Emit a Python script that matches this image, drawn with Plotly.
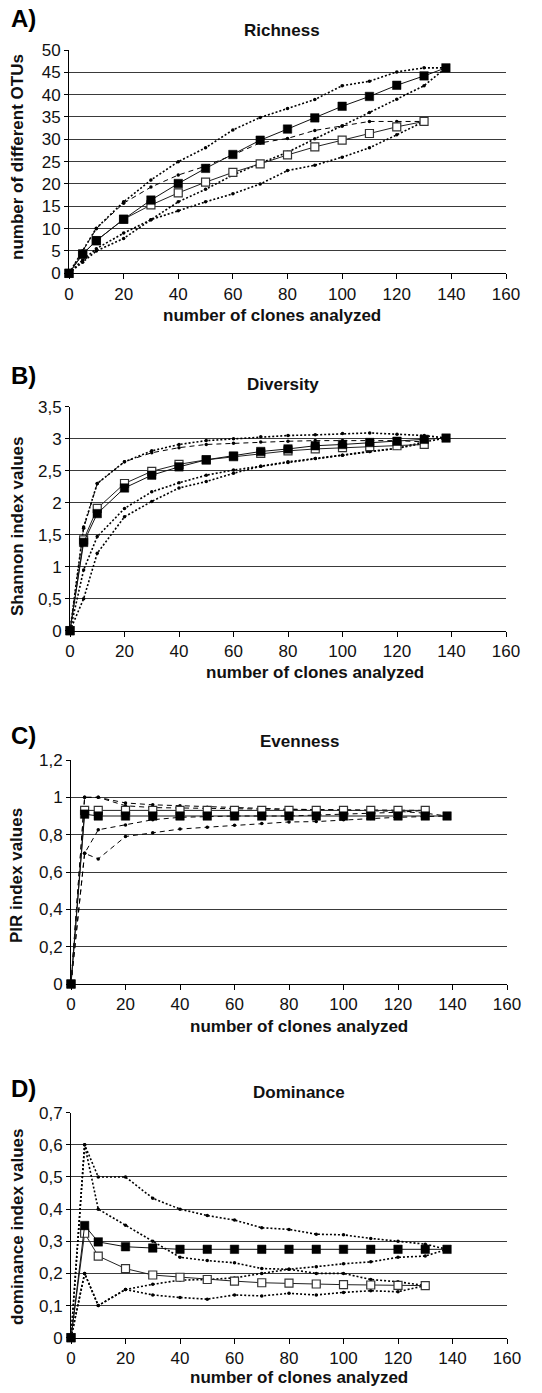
import plotly.graph_objects as go

# ---------------- data ----------------
x_filled = [0, 5, 10, 20, 30, 40, 50, 60, 70, 80, 90, 100, 110, 120, 130, 138]
x_open = [0, 5, 10, 20, 30, 40, 50, 60, 70, 80, 90, 100, 110, 120, 130]

# A) Richness
rich_filled = [0, 4.3, 7.3, 12.1, 16.4, 20.1, 23.5, 26.6, 29.8, 32.3, 34.8, 37.4, 39.6, 42.1, 44.2, 46.0]
rich_open = [0, 4.3, 7.3, 12.1, 15.3, 18.0, 20.4, 22.6, 24.5, 26.5, 28.3, 29.8, 31.3, 32.8, 34.0]
rich_filled_upper = [0, 5, 10.1, 16, 20.9, 25, 28.1, 32.1, 34.9, 36.9, 38.9, 42, 43, 45.1, 46, 46]
rich_filled_lower = [0, 3, 5.5, 9, 12, 16, 18.8, 22, 24.6, 27.1, 30.1, 33, 36, 39, 42, 46]
rich_open_upper = [0, 5, 10, 15.7, 19.3, 22, 24, 26.5, 29.2, 30.2, 32, 33, 34, 34, 34]
rich_open_lower = [0, 2.5, 5, 7.8, 12, 14, 16, 17.8, 20, 23, 24.2, 26, 28.1, 31, 34]

# B) Diversity
div_filled = [0, 1.38, 1.83, 2.23, 2.43, 2.56, 2.67, 2.73, 2.80, 2.84, 2.89, 2.91, 2.94, 2.96, 2.99, 3.01]
div_open = [0, 1.42, 1.91, 2.30, 2.49, 2.60, 2.67, 2.72, 2.77, 2.81, 2.84, 2.86, 2.875, 2.89, 2.91]
div_filled_upper = [0, 1.62, 2.30, 2.64, 2.81, 2.91, 2.97, 3.00, 3.03, 3.05, 3.06, 3.08, 3.09, 3.07, 3.05, 3.01]
div_filled_lower = [0, 0.95, 1.47, 1.91, 2.17, 2.31, 2.43, 2.51, 2.57, 2.64, 2.69, 2.74, 2.80, 2.85, 2.95, 3.01]
div_open_upper = [0, 1.60, 2.30, 2.64, 2.78, 2.86, 2.91, 2.93, 2.95, 2.96, 2.97, 2.97, 2.98, 2.97, 2.95]
div_open_lower = [0, 0.50, 1.21, 1.78, 2.02, 2.23, 2.33, 2.46, 2.57, 2.63, 2.69, 2.74, 2.80, 2.85, 2.93]

# C) Evenness
even_filled = [0, 0.91, 0.90, 0.90, 0.90, 0.90, 0.90, 0.90, 0.90, 0.90, 0.90, 0.90, 0.90, 0.90, 0.90, 0.90]
even_open = [0, 0.93, 0.93, 0.93, 0.93, 0.93, 0.93, 0.93, 0.93, 0.93, 0.93, 0.93, 0.93, 0.93, 0.93]
even_filled_upper = [0, 1.0, 1.0, 0.97, 0.96, 0.955, 0.947, 0.943, 0.94, 0.936, 0.934, 0.932, 0.93, 0.925, 0.915, 0.90]
even_filled_lower = [0, 0.70, 0.67, 0.79, 0.81, 0.83, 0.84, 0.85, 0.86, 0.868, 0.87, 0.88, 0.886, 0.893, 0.897, 0.90]
even_open_upper = [0, 1.0, 1.0, 0.955, 0.945, 0.942, 0.94, 0.938, 0.937, 0.936, 0.935, 0.934, 0.933, 0.932, 0.93]
even_open_lower = [0, 0.70, 0.826, 0.852, 0.88, 0.893, 0.897, 0.90, 0.90, 0.90, 0.905, 0.91, 0.915, 0.92, 0.93]

# D) Dominance
dom_filled = [0, 0.349, 0.298, 0.283, 0.279, 0.275, 0.275, 0.275, 0.275, 0.275, 0.275, 0.275, 0.275, 0.275, 0.275, 0.275]
dom_open = [0, 0.325, 0.254, 0.215, 0.195, 0.188, 0.181, 0.176, 0.171, 0.170, 0.167, 0.165, 0.164, 0.163, 0.162]
dom_filled_upper = [0, 0.60, 0.50, 0.50, 0.434, 0.40, 0.38, 0.366, 0.342, 0.337, 0.322, 0.320, 0.309, 0.30, 0.291, 0.275]
dom_filled_lower = [0, 0.20, 0.10, 0.15, 0.166, 0.179, 0.181, 0.186, 0.20, 0.213, 0.221, 0.23, 0.236, 0.25, 0.254, 0.275]
dom_open_upper = [0, 0.60, 0.40, 0.35, 0.30, 0.25, 0.24, 0.233, 0.215, 0.213, 0.20, 0.20, 0.181, 0.174, 0.162]
dom_open_lower = [0, 0.20, 0.10, 0.15, 0.133, 0.125, 0.12, 0.133, 0.13, 0.138, 0.133, 0.141, 0.146, 0.143, 0.162]

panels = [
    dict(name="Richness", letter="A)", ytitle="number of different OTUs", ymax=50, dtick=5,
         filled=rich_filled, open=rich_open, fu=rich_filled_upper, fl=rich_filled_lower,
         ou=rich_open_upper, ol=rich_open_lower, dashes=("dot", "dot", "dash", "dot")),
    dict(name="Diversity", letter="B)", ytitle="Shannon index values", ymax=3.5, dtick=0.5,
         filled=div_filled, open=div_open, fu=div_filled_upper, fl=div_filled_lower,
         ou=div_open_upper, ol=div_open_lower, dashes=("dot", "dot", "dash", "dot")),
    dict(name="Evenness", letter="C)", ytitle="PIR index values", ymax=1.2, dtick=0.2,
         filled=even_filled, open=even_open, fu=even_filled_upper, fl=even_filled_lower,
         ou=even_open_upper, ol=even_open_lower, dashes=("dash", "dash", "dash", "dash")),
    dict(name="Dominance", letter="D)", ytitle="dominance index values", ymax=0.7, dtick=0.1,
         filled=dom_filled, open=dom_open, fu=dom_filled_upper, fl=dom_filled_lower,
         ou=dom_open_upper, ol=dom_open_lower, dashes=("dot", "dot", "dot", "dot")),
]

# ---------------- layout geometry (pixels) ----------------
W, H = 542, 1393
plot_px = [  # (left, right, top, bottom)
    (69, 506, 50, 273.3),
    (70, 506, 406.7, 630.7),
    (71, 507, 760, 984),
    (71, 507, 1112.7, 1337.7),
]
letter_px = [(9, 34), (9, 391), (9, 751), (9, 1104)]
title_px = [(282, 42), (283, 396), (299, 753), (299, 1104)]
xtitle_px = [(272, 327), (315, 684), (299, 1038), (299, 1389)]
ytitle_px = [(17, 157), (17, 526), (16, 876), (17, 1227)]

FONT = "Liberation Sans, Arial, sans-serif"
fig = go.Figure()
annotations = []
layout_axes = {}

for i, p in enumerate(panels):
    n = "" if i == 0 else str(i + 1)
    xa, ya = "x" + n, "y" + n
    specs = [
        (x_filled, p["fu"], p["dashes"][0]),
        (x_filled, p["fl"], p["dashes"][1]),
        (x_open, p["ou"], p["dashes"][2]),
        (x_open, p["ol"], p["dashes"][3]),
    ]
    for xs, ys, dash in specs:
        fig.add_trace(go.Scatter(
            x=xs, y=ys, mode="lines+markers", xaxis=xa, yaxis=ya,
            line=dict(color="black", width=1.6 if dash == "dot" else 1,
                      dash="2px,2px" if dash == "dot" else "5px,4px"),
            marker=dict(symbol="circle", size=3.5, color="black"),
            cliponaxis=False, showlegend=False, hoverinfo="skip"))
    fig.add_trace(go.Scatter(
        x=x_open, y=p["open"], mode="lines+markers", xaxis=xa, yaxis=ya,
        line=dict(color="#222", width=1),
        marker=dict(symbol="square", size=8, color="white", line=dict(color="#333", width=1.2)),
        cliponaxis=False, showlegend=False))
    fig.add_trace(go.Scatter(
        x=x_filled, y=p["filled"], mode="lines+markers", xaxis=xa, yaxis=ya,
        line=dict(color="#111", width=1),
        marker=dict(symbol="square", size=8.5, color="black", line=dict(color="black", width=0.5)),
        cliponaxis=False, showlegend=False))

    l, r, t, b = plot_px[i]
    layout_axes["xaxis" + n] = dict(
        domain=[l / W, r / W], range=[0, 160], dtick=20, tick0=0, anchor=ya, automargin=False,
        showgrid=False, zeroline=False, showline=True, linecolor="black", linewidth=1,
        ticks="outside", ticklen=5, tickcolor="black",
        tickfont=dict(family=FONT, size=17, color="#111"), fixedrange=True)
    layout_axes["yaxis" + n] = dict(
        domain=[1 - b / H, 1 - t / H], range=[0, p["ymax"]], dtick=p["dtick"], tick0=0, anchor=xa,
        automargin=False, showgrid=True, gridcolor="#3a3a3a", gridwidth=1, zeroline=False,
        showline=True, linecolor="black", linewidth=1,
        ticks="outside", ticklen=4, tickcolor="black",
        tickfont=dict(family=FONT, size=17, color="#111"), fixedrange=True)

    lx, ly = letter_px[i]
    annotations.append(dict(text="<b>%s</b>" % p["letter"], x=lx / W, y=1 - ly / H, xref="paper", yref="paper",
                            xanchor="left", yanchor="bottom", showarrow=False,
                            font=dict(family=FONT, size=24, color="black")))
    tx, ty = title_px[i]
    annotations.append(dict(text="<b>%s</b>" % p["name"], x=tx / W, y=1 - ty / H, xref="paper", yref="paper",
                            xanchor="center", yanchor="bottom", showarrow=False,
                            font=dict(family=FONT, size=17, color="#111")))
    xx, xy = xtitle_px[i]
    annotations.append(dict(text="<b>number of clones analyzed</b>", x=xx / W, y=1 - xy / H,
                            xref="paper", yref="paper", xanchor="center", yanchor="bottom",
                            showarrow=False, font=dict(family=FONT, size=17, color="#111")))
    yx, yy = ytitle_px[i]
    annotations.append(dict(text="<b>%s</b>" % p["ytitle"], x=yx / W, y=1 - yy / H, xref="paper", yref="paper",
                            xanchor="center", yanchor="middle", textangle=-90, showarrow=False,
                            font=dict(family=FONT, size=17, color="#111")))

fig.update_layout(
    width=W, height=H, autosize=False, margin=dict(l=0, r=0, t=0, b=0, pad=0),
    paper_bgcolor="white", plot_bgcolor="white",
    separators=", ", annotations=annotations, showlegend=False,
    font=dict(family=FONT), **layout_axes)

fig.write_html("out.html", config={"displayModeBar": False, "responsive": False})
